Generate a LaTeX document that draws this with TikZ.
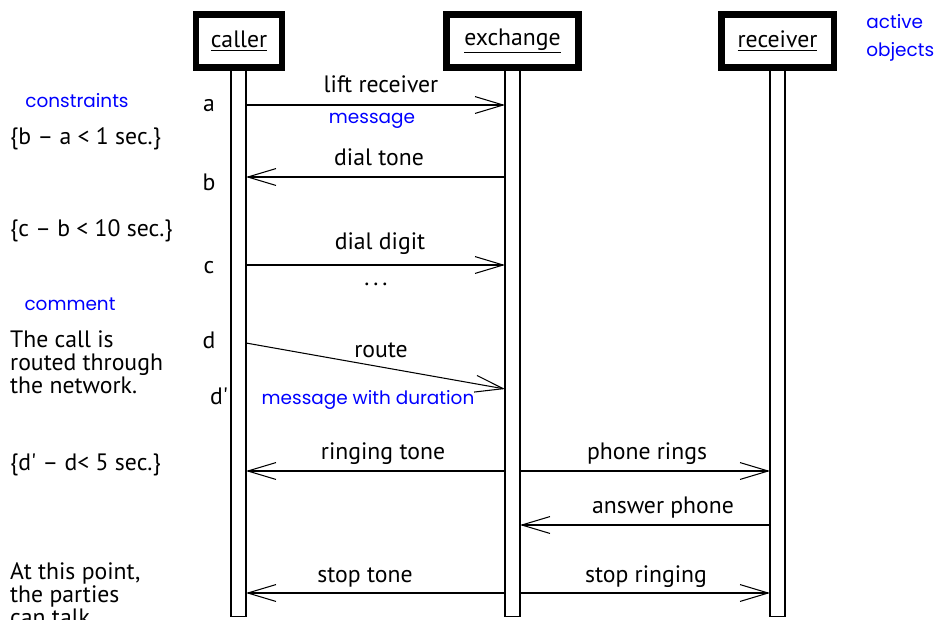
\documentclass[tikz,border=0pt]{standalone}
\usepackage{fontspec}
\setmainfont{PT Sans}
\newfontfamily\notefont{Poppins}
\usetikzlibrary{arrows.meta}

\begin{document}
\begin{tikzpicture}[x=0.02cm, y=-0.02cm,
    font=\fontsize{13.5}{13}\selectfont,
    obj/.style={draw, fill=white, line width=0.13cm, inner sep=0pt, minimum height=1.07cm},
    lifebar/.style={draw, line width=0.6pt, minimum width=0.3cm, minimum height=10.98cm, inner sep=0pt},
    msg/.style={line width=0.6pt, -{Straight Barb[length=16pt, width=9.6pt]}},
    note/.style={text=blue, font=\notefont\fontsize{10.5}{16}\selectfont, align=left}]
    \useasboundingbox (0,0) rectangle (939,619);
    % ---- lifelines and active objects
    \node[lifebar] (cbar) at (238.5,342.5) {};
    \node[lifebar] (xbar) at (512.5,342.5) {};
    \node[lifebar] (rbar) at (777.5,342.5) {};
    \node[obj, minimum width=1.73cm] (caller) at (239,41) {\underline{caller}};
    \node[obj, minimum width=2.65cm] (exchange) at (512.5,41) {\underline{exchange}};
    \node[obj, minimum width=2.25cm] (receiver) at (777.5,41) {\underline{receiver}};
    \node[note, anchor=west, inner sep=0pt] (active) at (866,38) {active\\objects};
    % ---- message ends on the bars
    \foreach \n/\y in {1/105,2/177,3/265,4/343,6/471,7/525,8/593} {
      \coordinate (ca\n) at (246,\y);
      \coordinate (xl\n) at (505,\y);
      \coordinate (xr\n) at (520,\y);
      \coordinate (rv\n) at (770,\y);
    }
    \coordinate (xl5) at (505,389);
    \foreach \u/\v in {ca1/xl1,xl2/ca2,ca3/xl3,ca4/xl5,xl6/ca6,xr6/rv6,rv7/xr7,xl8/ca8,xr8/rv8} { \draw[msg] (\u) -- (\v); }
    % ---- message labels
    \node (m1) at (381,84) {lift receiver};
    \node (m2) at (379,157) {dial tone};
    \node (m3) at (380,244) {dial digit};
    \node (dots) at (376,284) {.\,.\,.};
    \node (m4) at (381,350) {route};
    \node (m6) at (383,454) {ringing tone};
    \node (m7) at (647,454) {phone rings};
    \node (m8) at (663,508) {answer phone};
    \node (m9) at (365,577) {stop tone};
    \node (m10) at (646,577) {stop ringing};
    \node[note] (message) at (372,121) {message};
    \node[note] (duration) at (368,400) {message with duration};
    % ---- time marks
    \node (a) at (209,106) {a};
    \node (b) at (209,182) {b};
    \node (c) at (209,268) {c};
    \node (d) at (209,340) {d};
    \node (d2) at (219,396) {d\textquotesingle};
    % ---- constraints and comments
    \node[note] (constraints) at (77,101) {constraints};
    \node[anchor=west] (ba) at (4,139) {\{b – a < 1 sec.\}};
    \node[anchor=west] (cb) at (4,231) {\{c – b < 10 sec.\}};
    \node[note] (comment) at (70,304) {comment};
    \node[anchor=west, align=left] (routed) at (4,362) {The call is\\routed through\\the network.};
    \node[anchor=west] (dd) at (4,465) {\{d\textquotesingle{} – d< 5 sec.\}};
    \node[anchor=west, align=left] (talk) at (4,594) {At this point,\\the parties\\can talk.};
\end{tikzpicture}
\end{document}
